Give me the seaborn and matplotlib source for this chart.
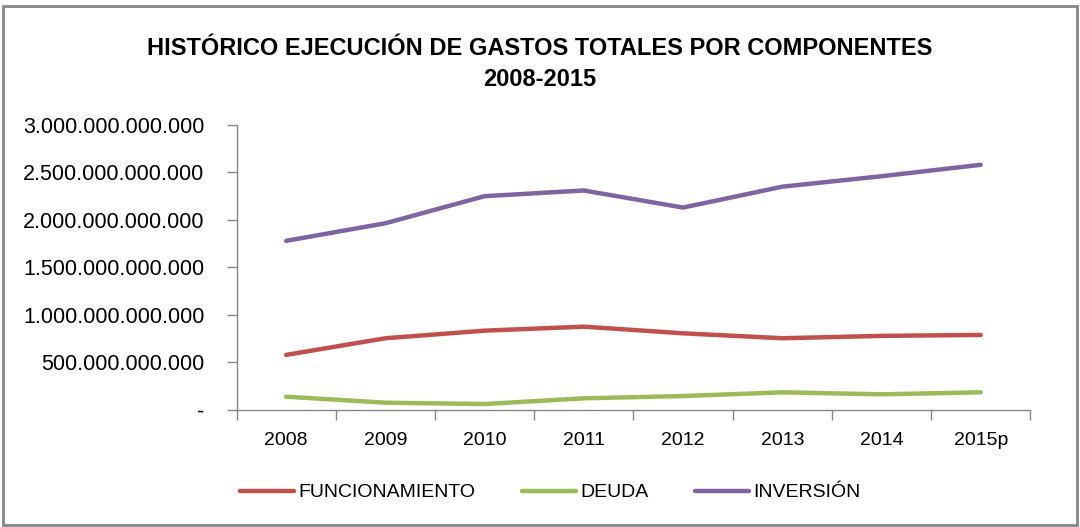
import matplotlib
matplotlib.use("Agg")
import matplotlib.pyplot as plt
import matplotlib.ticker as mticker
from matplotlib.patches import Rectangle
import seaborn as sns
import pandas as pd

years = ["2008", "2009", "2010", "2011", "2012", "2013", "2014", "2015p"]
funcionamiento = [0.58e12, 0.755e12, 0.835e12, 0.877e12, 0.807e12, 0.755e12, 0.78e12, 0.79e12]
deuda = [0.14e12, 0.077e12, 0.063e12, 0.123e12, 0.147e12, 0.186e12, 0.165e12, 0.186e12]
inversion = [1.78e12, 1.965e12, 2.25e12, 2.31e12, 2.13e12, 2.35e12, 2.46e12, 2.58e12]
series_names = ["FUNCIONAMIENTO", "DEUDA", "INVERSIÓN"]
colors = ["#C0504D", "#9BBB59", "#8064A2"]

rows = []
for name, vals in zip(series_names, [funcionamiento, deuda, inversion]):
    for y, v in zip(years, vals):
        rows.append({"Año": y, "Valor": v, "Serie": name})
df = pd.DataFrame(rows)

sns.set_theme(style="white")
plt.rcParams["font.family"] = ["Liberation Sans", "DejaVu Sans"]
plt.rcParams["text.color"] = "black"
plt.rcParams["xtick.color"] = "black"
plt.rcParams["ytick.color"] = "black"

fig = plt.figure(figsize=(10.8, 5.27), dpi=100)
ax = fig.add_axes([0.219, 0.222, 0.735, 0.541])

sns.lineplot(data=df, x="Año", y="Valor", hue="Serie", hue_order=series_names,
             palette=colors, linewidth=3.2, sort=False, ax=ax, legend=True)

ax.set_xlim(-0.5, len(years) - 0.5)
ax.set_ylim(0, 3e12)
ax.yaxis.set_major_locator(mticker.MultipleLocator(0.5e12))

def fmt(v, pos):
    if abs(v) < 1:
        return "-"
    return f"{int(round(v)):,}".replace(",", ".")

ax.yaxis.set_major_formatter(mticker.FuncFormatter(fmt))
ax.set_xticks(range(len(years)))
ax.set_xticklabels(years)
ax.set_xticks([i - 0.5 for i in range(len(years) + 1)], minor=True)
ax.tick_params(axis="x", which="major", length=0, pad=16, labelsize=14, labelcolor="black")
ax.tick_params(axis="x", which="minor", length=7, width=1, color="#868686", direction="out", bottom=True)
ax.tick_params(axis="y", which="major", length=7, width=1, color="#868686", direction="out", left=True,
               labelsize=15.5, pad=16, labelcolor="black")
ax.set_xlabel("")
ax.set_ylabel("")
for s in ["top", "right"]:
    ax.spines[s].set_visible(False)
for s in ["left", "bottom"]:
    ax.spines[s].set_color("#868686")
    ax.spines[s].set_linewidth(1)

fig.suptitle("HISTÓRICO EJECUCIÓN DE GASTOS TOTALES POR COMPONENTES\n2008-2015",
             y=0.93, fontsize=17, fontweight="bold", linespacing=1.45, color="black")

leg = ax.legend(loc="center", bbox_to_anchor=(0.395, -0.29), ncol=3, frameon=False,
                fontsize=14, handlelength=2.8, handletextpad=0.2, columnspacing=2.4)
for t in leg.get_texts():
    t.set_color("black")

fig.patches.append(Rectangle((0.003, 0.003), 0.994, 0.985, transform=fig.transFigure,
                             fill=False, edgecolor="#868686", linewidth=2))

fig.savefig("out.png", dpi=100)
